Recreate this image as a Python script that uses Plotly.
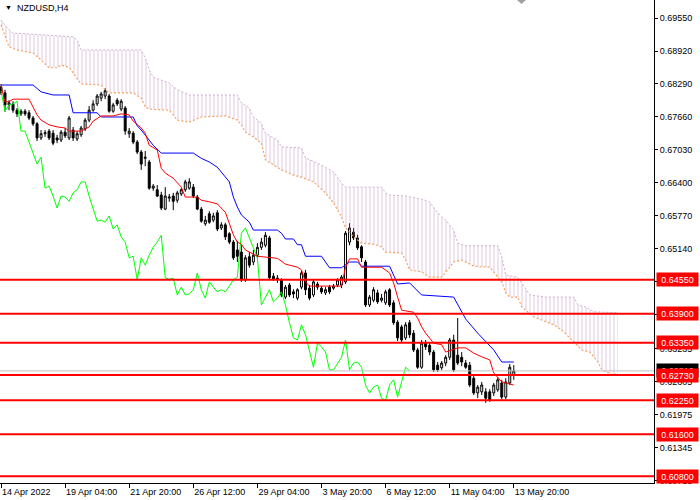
import plotly.graph_objects as go

# NZDUSD H4 candles, 14 Apr - 13 May 2022
opens = [0.6823, 0.6812, 0.6789, 0.6791, 0.6779, 0.6772, 0.6777, 0.6774, 0.6764, 0.6753,
         0.6726, 0.6734, 0.6739, 0.6735, 0.6726, 0.6722, 0.6737, 0.6726, 0.6741, 0.6724,
         0.6732, 0.6743, 0.6760, 0.6779, 0.6791, 0.6802, 0.6806, 0.6806, 0.6777, 0.6798,
         0.6781, 0.6783, 0.6734, 0.6735, 0.6718, 0.6699, 0.6687, 0.6680, 0.6630, 0.6627,
         0.6617, 0.6590, 0.6611, 0.6615, 0.6607, 0.6619, 0.6627, 0.6630, 0.6632, 0.6613,
         0.6590, 0.6562, 0.6581, 0.6569, 0.6583, 0.6554, 0.6560, 0.6543, 0.6527, 0.6512,
         0.6508, 0.6455, 0.6499, 0.6489, 0.6502, 0.6517, 0.6521, 0.6535, 0.6462, 0.6456,
         0.6455, 0.6422, 0.6445, 0.6432, 0.6420, 0.6441, 0.6468, 0.6439, 0.6426, 0.6447,
         0.6439, 0.6430, 0.6441, 0.6439, 0.6445, 0.6445, 0.6451, 0.6527, 0.6546, 0.6535,
         0.6518, 0.6489, 0.6407, 0.6416, 0.6430, 0.6416, 0.6411, 0.6436, 0.6411, 0.6374,
         0.6365, 0.6344, 0.6373, 0.6353, 0.6321, 0.6288, 0.6334, 0.6330, 0.6317, 0.6292,
         0.6287, 0.6296, 0.6307, 0.6340, 0.6311, 0.6307, 0.6296, 0.6292, 0.6267, 0.6239,
         0.6241, 0.6241, 0.6241, 0.6239, 0.6245, 0.6258, 0.6231, 0.6258, 0.6273]
highs = [0.6829, 0.6818, 0.6798, 0.6796, 0.6783, 0.6781, 0.6781, 0.6779, 0.6768, 0.6756,
         0.6741, 0.6741, 0.6743, 0.6741, 0.6732, 0.6741, 0.6745, 0.6768, 0.6747, 0.6739,
         0.6749, 0.6764, 0.6787, 0.6798, 0.6810, 0.6814, 0.6821, 0.6810, 0.6793, 0.6802,
         0.6800, 0.6787, 0.6745, 0.6739, 0.6722, 0.6703, 0.6701, 0.6684, 0.6638, 0.6636,
         0.6623, 0.6632, 0.6619, 0.6621, 0.6625, 0.6630, 0.6646, 0.6649, 0.6638, 0.6617,
         0.6594, 0.6577, 0.6586, 0.6583, 0.6588, 0.6565, 0.6564, 0.6546, 0.6531, 0.6529,
         0.6521, 0.6502, 0.6508, 0.6512, 0.6525, 0.6535, 0.6546, 0.6539, 0.6468, 0.6464,
         0.6458, 0.6445, 0.6449, 0.6437, 0.6439, 0.6472, 0.6474, 0.6445, 0.6455, 0.6451,
         0.6443, 0.6441, 0.6445, 0.6447, 0.6458, 0.6464, 0.6548, 0.6563, 0.6554, 0.6541,
         0.6521, 0.6493, 0.6426, 0.6441, 0.6436, 0.6428, 0.6436, 0.6439, 0.6416, 0.6378,
         0.6369, 0.6374, 0.6378, 0.6359, 0.6325, 0.6340, 0.6340, 0.6334, 0.6321, 0.6298,
         0.6300, 0.6311, 0.6344, 0.6350, 0.6382, 0.6317, 0.6302, 0.6298, 0.6271, 0.6254,
         0.6260, 0.6248, 0.6246, 0.6258, 0.6269, 0.6264, 0.6267, 0.6294, 0.6292]
lows = [0.6808, 0.6776, 0.6779, 0.6774, 0.6766, 0.6768, 0.6768, 0.6760, 0.6749, 0.6720,
        0.6722, 0.6728, 0.6722, 0.6712, 0.6716, 0.6718, 0.6726, 0.6722, 0.6720, 0.6720,
        0.6728, 0.6739, 0.6756, 0.6776, 0.6787, 0.6796, 0.6800, 0.6774, 0.6774, 0.6787,
        0.6777, 0.6732, 0.6726, 0.6714, 0.6695, 0.6665, 0.6672, 0.6627, 0.6625, 0.6613,
        0.6588, 0.6588, 0.6604, 0.6588, 0.6602, 0.6615, 0.6623, 0.6627, 0.6611, 0.6588,
        0.6564, 0.6558, 0.6562, 0.6565, 0.6548, 0.6550, 0.6531, 0.6523, 0.6493, 0.6489,
        0.6451, 0.6451, 0.6478, 0.6483, 0.6497, 0.6512, 0.6517, 0.6455, 0.6453, 0.6449,
        0.6422, 0.6418, 0.6422, 0.6420, 0.6416, 0.6437, 0.6426, 0.6416, 0.6422, 0.6436,
        0.6428, 0.6426, 0.6428, 0.6436, 0.6441, 0.6439, 0.6447, 0.6521, 0.6531, 0.6512,
        0.6489, 0.6403, 0.6403, 0.6412, 0.6409, 0.6412, 0.6407, 0.6403, 0.6369, 0.6338,
        0.6336, 0.6340, 0.6344, 0.6317, 0.6285, 0.6285, 0.6321, 0.6311, 0.6279, 0.6279,
        0.6283, 0.6290, 0.6302, 0.6279, 0.6292, 0.6290, 0.6285, 0.6250, 0.6235, 0.6229,
        0.6235, 0.6220, 0.6222, 0.6233, 0.6241, 0.6227, 0.6227, 0.6254, 0.6264]
closes = [0.6812, 0.6789, 0.6793, 0.6779, 0.6772, 0.6777, 0.6772, 0.6764, 0.6753, 0.6726,
          0.6734, 0.6736, 0.6726, 0.6716, 0.6722, 0.6737, 0.6730, 0.6764, 0.6726, 0.6734,
          0.6745, 0.6760, 0.6779, 0.6791, 0.6806, 0.6810, 0.6816, 0.6777, 0.6789, 0.6791,
          0.6796, 0.6739, 0.6739, 0.6718, 0.6699, 0.6676, 0.6689, 0.6630, 0.6634, 0.6615,
          0.6592, 0.6615, 0.6613, 0.6605, 0.6621, 0.6627, 0.6642, 0.6642, 0.6615, 0.6590,
          0.6567, 0.6569, 0.6565, 0.6577, 0.6552, 0.6560, 0.6537, 0.6527, 0.6497, 0.6500,
          0.6455, 0.6497, 0.6483, 0.6502, 0.6517, 0.6527, 0.6540, 0.6459, 0.6456, 0.6458,
          0.6426, 0.6441, 0.6426, 0.6428, 0.6436, 0.6468, 0.6436, 0.6420, 0.6451, 0.6441,
          0.6432, 0.6436, 0.6432, 0.6443, 0.6455, 0.6460, 0.6544, 0.6554, 0.6535, 0.6516,
          0.6497, 0.6407, 0.6422, 0.6436, 0.6413, 0.6420, 0.6432, 0.6407, 0.6373, 0.6344,
          0.6340, 0.6369, 0.6350, 0.6321, 0.6288, 0.6334, 0.6327, 0.6317, 0.6283, 0.6283,
          0.6296, 0.6307, 0.6340, 0.6283, 0.6296, 0.6298, 0.6288, 0.6254, 0.6239, 0.6250,
          0.6254, 0.6229, 0.6225, 0.6254, 0.6264, 0.6231, 0.6260, 0.6288, 0.6281]

# Ichimoku lines (bar index, price)
tenkan_x = [0, 1, 2, 3, 7, 8, 9, 10, 12, 14, 16, 17, 20, 22, 23, 25, 28, 30, 32, 33,
            35, 36, 37, 39, 40, 41, 43, 45, 46, 49, 50, 52, 54, 56, 57, 58, 59, 60, 61, 63,
            64, 69, 71, 74, 75, 76, 77, 85, 86, 87, 89, 90, 95, 97, 98, 99, 100, 103, 104, 105,
            106, 108, 110, 111, 114, 116, 118, 120, 122, 123, 125, 128]
tenkan = [0.6825, 0.6795, 0.6795, 0.6800, 0.6800, 0.6785, 0.6770, 0.6760, 0.6751, 0.6747,
          0.6745, 0.6739, 0.6739, 0.6747, 0.6758, 0.6768, 0.6768, 0.6772, 0.6770, 0.6758,
          0.6745, 0.6735, 0.6712, 0.6703, 0.6668, 0.6659, 0.6649, 0.6632, 0.6613, 0.6613,
          0.6607, 0.6604, 0.6600, 0.6584, 0.6564, 0.6541, 0.6527, 0.6523, 0.6512, 0.6504,
          0.6500, 0.6496, 0.6485, 0.6479, 0.6474, 0.6451, 0.6443, 0.6443, 0.6479, 0.6495,
          0.6495, 0.6479, 0.6479, 0.6468, 0.6449, 0.6422, 0.6397, 0.6393, 0.6382, 0.6365,
          0.6353, 0.6334, 0.6331, 0.6317, 0.6325, 0.6325, 0.6315, 0.6308, 0.6302, 0.6277,
          0.6260, 0.6254]

kijun_x = [0, 8, 10, 13, 17, 18, 24, 25, 33, 34, 35, 37, 38, 40, 48, 50, 52, 54, 55, 57,
           58, 59, 60, 62, 63, 69, 70, 71, 73, 74, 75, 76, 80, 81, 82, 85, 86, 87, 89, 90,
           97, 99, 102, 105, 113, 115, 116, 119, 121, 123, 125, 128]
kijun = [0.6827, 0.6827, 0.6814, 0.6808, 0.6808, 0.6774, 0.6774, 0.6766, 0.6766, 0.6749,
         0.6741, 0.6722, 0.6712, 0.6697, 0.6697, 0.6687, 0.6680, 0.6670, 0.6661, 0.6642,
         0.6613, 0.6594, 0.6579, 0.6565, 0.6550, 0.6550, 0.6544, 0.6533, 0.6533, 0.6522,
         0.6522, 0.6500, 0.6500, 0.6489, 0.6478, 0.6478, 0.6483, 0.6489, 0.6489, 0.6481,
         0.6481, 0.6447, 0.6449, 0.6426, 0.6422, 0.6392, 0.6380, 0.6353, 0.6336, 0.6321,
         0.6298, 0.6298]

span_b_x = [0, 1, 2, 3, 6, 18, 19, 20, 35, 36, 37, 38, 40, 42, 44, 47, 59, 60, 62, 63,
            65, 66, 69, 70, 75, 76, 80, 83, 85, 86, 95, 96, 97, 101, 105, 107, 109, 111, 113, 114,
            116, 124, 125, 126, 129, 130, 132, 136, 143, 144, 146, 148, 154]
span_b = [0.6951, 0.6942, 0.6932, 0.6926, 0.6925, 0.6919, 0.6913, 0.6894, 0.6894, 0.6879,
          0.6856, 0.6842, 0.6837, 0.6831, 0.6818, 0.6808, 0.6808, 0.6793, 0.6783, 0.6766,
          0.6754, 0.6735, 0.6722, 0.6709, 0.6707, 0.6688, 0.6674, 0.6661, 0.6640, 0.6632,
          0.6632, 0.6621, 0.6617, 0.6615, 0.6609, 0.6604, 0.6583, 0.6569, 0.6550, 0.6525,
          0.6520, 0.6520, 0.6499, 0.6464, 0.6460, 0.6449, 0.6426, 0.6422, 0.6422, 0.6407,
          0.6403, 0.6394, 0.6392]

span_a_x = [0, 1, 2, 4, 8, 10, 12, 14, 15, 17, 19, 20, 25, 26, 27, 33, 35, 36, 37, 42,
            43, 44, 47, 50, 56, 59, 60, 61, 63, 65, 66, 70, 73, 75, 78, 80, 81, 83, 85, 86,
            88, 90, 93, 95, 96, 100, 101, 102, 105, 107, 110, 112, 113, 115, 118, 122, 123, 125, 126, 127,
            129, 130, 133, 135, 138, 140, 143, 145, 147, 149, 150, 153, 154]
span_a = [0.6942, 0.6919, 0.6900, 0.6894, 0.6888, 0.6875, 0.6860, 0.6860, 0.6865, 0.6861,
          0.6840, 0.6829, 0.6827, 0.6818, 0.6812, 0.6812, 0.6802, 0.6785, 0.6781, 0.6779,
          0.6770, 0.6760, 0.6756, 0.6766, 0.6768, 0.6760, 0.6751, 0.6737, 0.6728, 0.6716,
          0.6684, 0.6665, 0.6655, 0.6651, 0.6642, 0.6627, 0.6621, 0.6602, 0.6575, 0.6554,
          0.6537, 0.6525, 0.6523, 0.6518, 0.6508, 0.6506, 0.6493, 0.6474, 0.6470, 0.6460,
          0.6460, 0.6479, 0.6489, 0.6493, 0.6481, 0.6479, 0.6470, 0.6451, 0.6430, 0.6422,
          0.6422, 0.6403, 0.6384, 0.6378, 0.6369, 0.6359, 0.6336, 0.6321, 0.6317, 0.6298,
          0.6283, 0.6273, 0.6277]

# support / resistance levels and current bid
levels = [0.6455, 0.6390, 0.6335, 0.6273, 0.6225, 0.6160, 0.6080]
bid = 0.6281

price_ticks = [0.6955, 0.6892, 0.6829, 0.6766, 0.6703, 0.6640, 0.6577, 0.6514,
               0.6451, 0.6388, 0.63235, 0.62605, 0.61975, 0.61345, 0.60715]
time_ticks = [0, 16, 32, 48, 64, 80, 96, 112, 128]
time_labels = ['14 Apr 2022', '19 Apr 04:00', '21 Apr 20:00', '26 Apr 12:00', '29 Apr 04:00',
               '3 May 20:00', '6 May 12:00', '11 May 04:00', '13 May 20:00']

bars = list(range(len(closes)))
# chikou span: closes drawn 26 bars back
chikou = closes[26:]

FONT = 'Liberation Sans, Arial, sans-serif'

fig = go.Figure()

# kumo
fig.add_trace(go.Scatter(x=span_b_x, y=span_b, mode='lines',
                         line=dict(color='#D0B0D0', width=1, dash='2px,2px')))
fig.add_trace(go.Scatter(x=span_a_x, y=span_a, mode='lines', fill='tonexty',
                         fillcolor='rgba(0,0,0,0)',
                         fillpattern=dict(shape='|', fgcolor='#C090C0', bgcolor='rgba(0,0,0,0)',
                                          size=4, solidity=0.25),
                         line=dict(color='#F4A460', width=1.2, dash='2px,2px')))

fig.add_trace(go.Scatter(x=list(range(len(chikou))), y=chikou, mode='lines',
                         line=dict(color='#00FF00', width=1)))
fig.add_trace(go.Scatter(x=kijun_x, y=kijun, mode='lines', line=dict(color='#0000FF', width=1)))
fig.add_trace(go.Scatter(x=tenkan_x, y=tenkan, mode='lines', line=dict(color='#FF0000', width=1)))

fig.add_trace(go.Candlestick(
    x=bars, open=opens, high=highs, low=lows, close=closes,
    increasing=dict(line=dict(color='black', width=1), fillcolor='white'),
    decreasing=dict(line=dict(color='black', width=1), fillcolor='black'),
    hoverinfo='skip'))

# bid line
fig.add_shape(type='line', xref='paper', x0=0, x1=1, y0=bid, y1=bid,
              line=dict(color='#C0C0C0', width=1))
for lv in levels:
    fig.add_shape(type='line', xref='paper', x0=0, x1=1, y0=lv, y1=lv,
                  line=dict(color='#FF0000', width=2))

# price labels on the right axis
fig.add_annotation(x=1, xref='paper', xanchor='left', xshift=2, y=bid, yref='y',
                   text=f'{bid:.5f}', showarrow=False, bgcolor='black', width=39, height=11,
                   borderpad=1, font=dict(color='white', size=9, family=FONT))
for lv in levels:
    fig.add_annotation(x=1, xref='paper', xanchor='left', xshift=2, y=lv, yref='y',
                       text=f'{lv:.5f}', showarrow=False, bgcolor='#FF0000', width=39, height=11,
                       borderpad=1, font=dict(color='white', size=9, family=FONT))

# symbol title
fig.add_annotation(x=3 / 654, xref='paper', xanchor='left', y=1, yref='paper', yanchor='top',
                   yshift=-2, text='▼', showarrow=False, font=dict(color='black', size=7, family=FONT))
fig.add_annotation(x=15 / 654, xref='paper', xanchor='left', y=1, yref='paper', yanchor='top',
                   yshift=-1, text='NZDUSD,H4', showarrow=False,
                   font=dict(color='black', size=9, family=FONT))
# one-click trading handle
fig.add_shape(type='path', xref='paper', yref='paper',
              path='M 0.7905 1 L 0.8043 1 L 0.7974 0.9917 Z',
              fillcolor='#A0A0A0', line=dict(width=0))

fig.update_layout(
    width=700, height=500,
    margin=dict(l=0, r=46, t=0, b=17),
    paper_bgcolor='white', plot_bgcolor='white',
    showlegend=False,
    font=dict(family=FONT, size=9, color='black'),
    xaxis=dict(range=[-0.25, 163.0], tickvals=time_ticks, ticktext=time_labels,
               ticks='outside', ticklen=4, tickcolor='black', showline=True, linecolor='black',
               ticklabelposition='outside right', showgrid=False, zeroline=False,
               rangeslider=dict(visible=False), automargin=False),
    yaxis=dict(side='right', range=[0.60669, 0.69894], tickvals=price_ticks,
               ticktext=[f'{t:.5f}' for t in price_ticks], ticks='outside', ticklen=3,
               tickcolor='black', showline=True, linecolor='black', showgrid=False,
               zeroline=False, automargin=False),
)

# page margin off so the 700x500 figure fills the window
fig.write_html("out.html", config={'displayModeBar': False},
               post_script="document.body.style.margin='0';")
